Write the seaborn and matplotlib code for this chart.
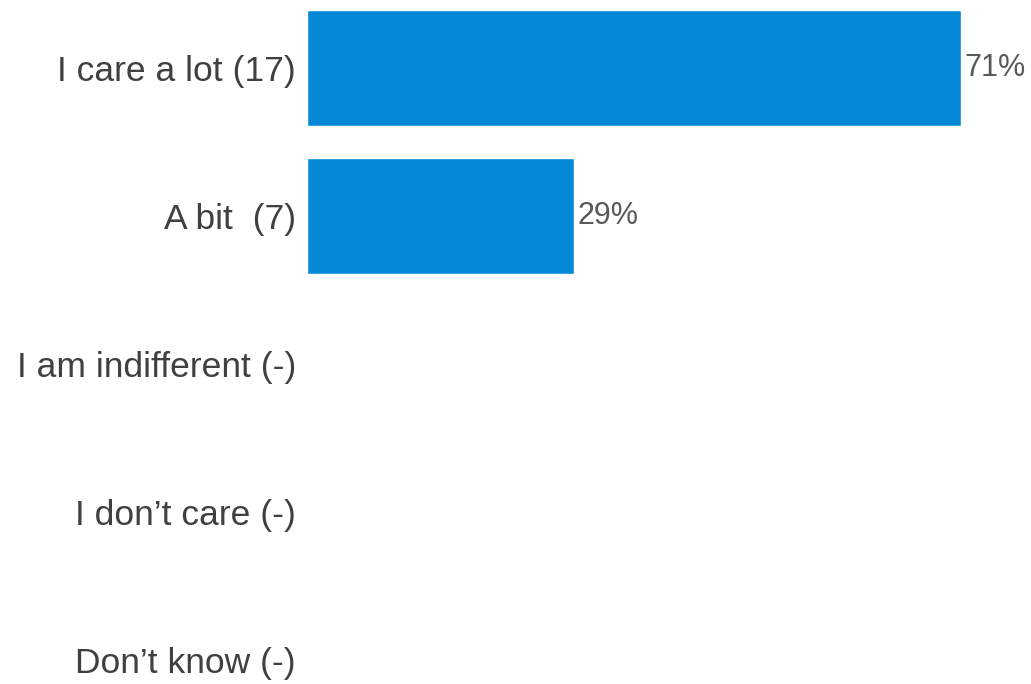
import matplotlib
matplotlib.use('Agg')
import matplotlib.pyplot as plt
import seaborn as sns
import pandas as pd

# answers and share of responses (%)
categories = ['I care a lot (17)', 'A bit  (7)', 'I am indifferent (-)', 'I don\u2019t care (-)', 'Don\u2019t know (-)']
values = [71, 29, 0, 0, 0]
labels = ['71%', '29%', '', '', '']

df = pd.DataFrame({'answer': categories, 'share': values})

sns.set_style('white')
plt.rcParams['font.family'] = ['Liberation Sans', 'DejaVu Sans']

fig = plt.figure(figsize=(10.31, 6.84), dpi=100)
ax = fig.add_axes([307 / 1031, 0, (961 - 307) / 1031, 1])

sns.barplot(data=df, x='share', y='answer', color='#0589D6', saturation=1,
            width=0.784, ax=ax)

for i, (v, t) in enumerate(zip(values, labels)):
    if t:
        ax.text(v + 0.4, i, t, va='center', ha='left', fontsize=22, color='#595959')

ax.set_xlim(0, 71)
ax.set_ylim((684 - 68) / 148, -68 / 148)
ax.set_xlabel('')
ax.set_ylabel('')
ax.set_xticks([])
ax.tick_params(axis='y', length=0, pad=8, labelsize=25.5, labelcolor='#404040')
sns.despine(ax=ax, left=True, bottom=True)

fig.savefig('out.png', dpi=100)
